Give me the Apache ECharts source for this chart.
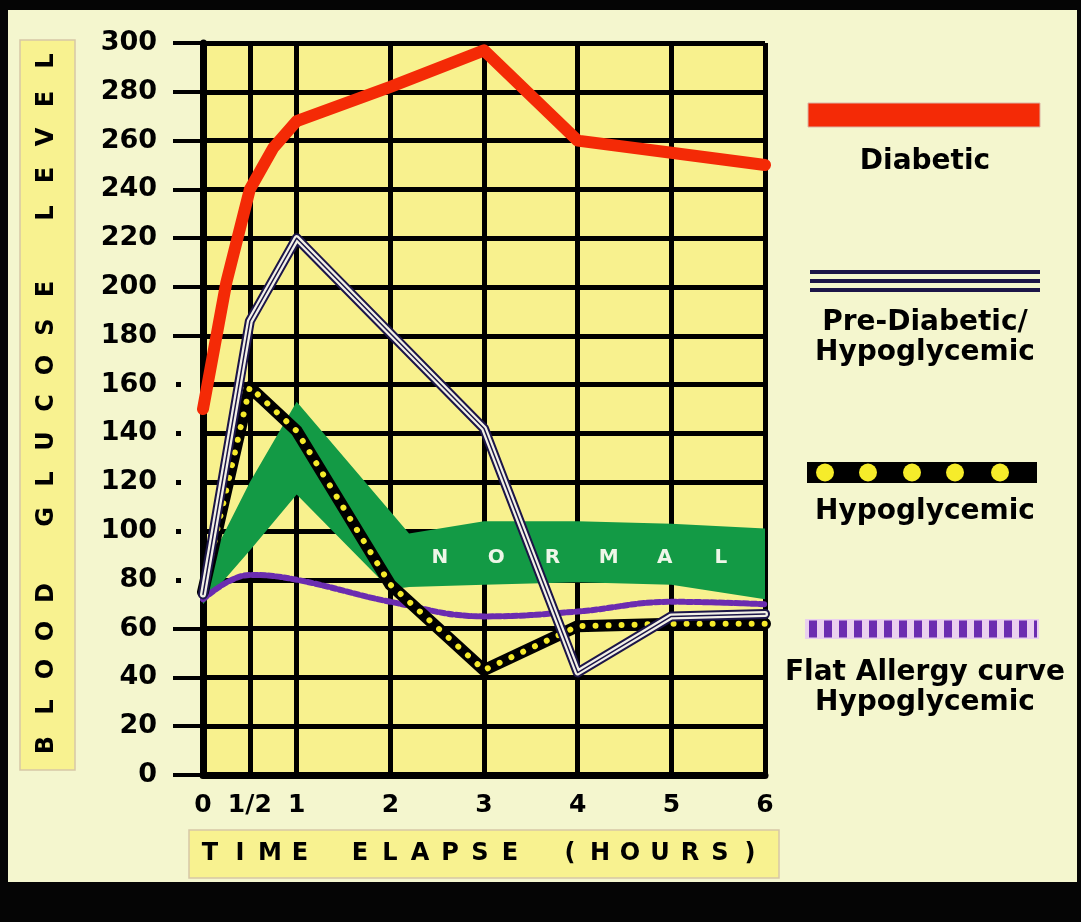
<!DOCTYPE html>
<html>
<head>
<meta charset="utf-8">
<script src="https://cdn.jsdelivr.net/npm/echarts@6/dist/echarts.min.js"></script>
<style>
html, body { margin: 0; padding: 0; background: #050505; }
#panel { position: absolute; left: 8px; top: 10px; width: 1069px; height: 872px; background: #f4f6ce; }
#main { position: absolute; left: 0; top: 0; width: 1081px; height: 922px; }
</style>
</head>
<body>
<div id="panel"></div>
<div id="main"></div>
<script>
// axis ticks
var hourTicks = [0, 0.5, 1, 2, 3, 4, 5, 6];
var hourNames = ['0', '1/2', '1', '2', '3', '4', '5', '6'];
var longTicks = [0, 20, 40, 60, 180, 200, 220, 240, 260, 280, 300];
var dotTicks = [80, 100, 120, 140, 160];

// series values (hours, blood glucose)
var diabeticHours = [0, 0.25, 0.5, 0.75, 1, 2, 3, 4, 5, 6];
var diabeticLevel = [150, 202, 240, 257, 268, 282, 297, 260, 255, 250];

var preDiabeticHours = [0, 0.5, 1, 3, 4, 5, 6];
var preDiabeticLevel = [74, 186, 220, 142, 42, 65, 66];

var hypoHours = [0, 0.5, 1, 2, 3, 4, 5, 6];
var hypoLevel = [75, 159, 141, 78, 43, 61, 62, 62];

var allergyHours = [0, 0.5, 1, 2, 3, 4, 5, 6];
var allergyLevel = [72, 82, 80, 71, 65, 67, 71, 70];

// normal band
var bandHours = [0, 0.5, 1, 2, 2.2, 3, 4, 5, 6];
var bandLow = [70, 92, 115, 76, 77, 78, 79, 78, 72];
var bandHigh = [82, 120, 153, 108, 99, 104, 104, 103, 101];
var bandLabel = 'NORMAL';

var FONT = 'DejaVu Sans';

function pairs(xs, ys) {
	var out = [];
	for (var i = 0; i < xs.length; i++) out.push([xs[i], ys[i]]);
	return out;
}

function lineSeries(data, color, width, type, smooth) {
	return {
		type: 'line',
		data: data,
		symbol: 'none',
		smooth: smooth || false,
		silent: true,
		lineStyle: { color: color, width: width, type: type || 'solid', cap: 'round', join: 'round' }
	};
}

var myChart = echarts.init(document.getElementById('main'));

// titles and legend drawn as plain graphics
var graphics = [];
graphics.push({ type: 'rect', shape: { x: 20, y: 40, width: 55, height: 730 },
	style: { fill: '#f8f290', stroke: '#d6c7a6', lineWidth: 1.5 } });
var yTitle = 'BLOOD GLUCOSE LEVEL';
for (var i = 0; i < yTitle.length; i++) {
	if (yTitle[i] === ' ') continue;
	graphics.push({ type: 'text', x: 47, y: 745 - i * 38, rotation: Math.PI / 2,
		style: { text: yTitle[i], font: 'bold 24px ' + FONT, fill: '#000', align: 'center', verticalAlign: 'middle' } });
}
graphics.push({ type: 'rect', shape: { x: 189, y: 830, width: 590, height: 48 },
	style: { fill: '#f8f290', stroke: '#d6c7a6', lineWidth: 1.5 } });
var xTitle = 'TIME ELAPSE (HOURS)';
for (var j = 0; j < xTitle.length; j++) {
	if (xTitle[j] === ' ') continue;
	graphics.push({ type: 'text', x: 210 + j * 30, y: 854,
		style: { text: xTitle[j], font: 'bold 24px ' + FONT, fill: '#000', align: 'center', verticalAlign: 'middle' } });
}

function legendText(str, y) {
	graphics.push({ type: 'text', x: 925, y: y,
		style: { text: str, font: 'bold 28px ' + FONT, fill: '#000', align: 'center', verticalAlign: 'middle' } });
}
// Diabetic
graphics.push({ type: 'rect', shape: { x: 808, y: 103, width: 232, height: 24 },
	style: { fill: '#f42a06', stroke: '#dcb4a4', lineWidth: 1 } });
legendText('Diabetic', 162);
// Pre-Diabetic
[272, 281, 290].forEach(function (y) {
	graphics.push({ type: 'line', shape: { x1: 810, y1: y, x2: 1040, y2: y },
		style: { stroke: '#1c1548', lineWidth: 4 } });
});
legendText('Pre-Diabetic/', 323);
legendText('Hypoglycemic', 353);
// Hypoglycemic
graphics.push({ type: 'rect', shape: { x: 807, y: 462, width: 230, height: 21 },
	style: { fill: '#000' } });
[825, 868, 912, 955, 1000].forEach(function (x) {
	graphics.push({ type: 'circle', shape: { cx: x, cy: 472.5, r: 9 }, style: { fill: '#f6ec2a' } });
});
legendText('Hypoglycemic', 512);
// Flat allergy
graphics.push({ type: 'rect', shape: { x: 805, y: 619, width: 234, height: 20 },
	style: { fill: '#ead0ee' } });
graphics.push({ type: 'line', shape: { x1: 809, y1: 629, x2: 1037, y2: 629 },
	style: { stroke: '#6b2cb0', lineWidth: 17, lineDash: [8, 7] } });
legendText('Flat Allergy curve', 673);
legendText('Hypoglycemic', 703);

var option = {
	animation: false,
	grid: { left: 203, top: 43, right: 316, bottom: 147, show: true, backgroundColor: '#f8f18e', borderWidth: 0 },
	xAxis: {
		type: 'value', min: 0, max: 6,
		axisLine: { show: true, onZero: false, lineStyle: { color: '#000', width: 7 } },
		axisTick: { show: false, customValues: hourTicks },
		axisLabel: {
			customValues: hourTicks, showMinLabel: true, showMaxLabel: true, margin: 18,
			color: '#000', fontFamily: FONT, fontWeight: 'bold', fontSize: 25,
			formatter: function (v) { return hourNames[hourTicks.indexOf(v)]; }
		},
		splitLine: { show: true, lineStyle: { color: '#000', width: 5 } }
	},
	yAxis: [
		{
			type: 'value', min: 0, max: 300, interval: 20,
			axisLine: { show: true, lineStyle: { color: '#000', width: 7 } },
			axisTick: { show: false },
			axisLabel: { margin: 46, color: '#000', fontFamily: FONT, fontWeight: 'bold', fontSize: 27 },
			splitLine: { show: true, lineStyle: { color: '#000', width: 5 } }
		},
		{
			type: 'value', min: 0, max: 300, position: 'left', offset: 0,
			axisLine: { show: false }, axisLabel: { show: false }, splitLine: { show: false },
			axisTick: { show: true, length: 30, customValues: longTicks, lineStyle: { color: '#000', width: 4 } }
		},
		{
			type: 'value', min: 0, max: 300, position: 'left', offset: 22,
			axisLine: { show: false }, axisLabel: { show: false }, splitLine: { show: false },
			axisTick: { show: true, length: 5, customValues: dotTicks, lineStyle: { color: '#000', width: 5 } }
		}
	],
	graphic: graphics,
	series: [
		{
			type: 'custom',
			silent: true,
			data: [[3, 90]],
			renderItem: function (params, api) {
				var pts = [];
				for (var k = 0; k < bandHours.length; k++) pts.push(api.coord([bandHours[k], bandHigh[k]]));
				for (var m = bandHours.length - 1; m >= 0; m--) pts.push(api.coord([bandHours[m], bandLow[m]]));
				var children = [{ type: 'polygon', shape: { points: pts }, style: { fill: '#139a45' } }];
				for (var n = 0; n < bandLabel.length; n++) {
					var p = api.coord([2.53 + n * 0.6, 89]);
					children.push({ type: 'text', x: p[0], y: p[1],
						style: { text: bandLabel[n], font: 'bold 20px ' + FONT, fill: '#eef6e8', align: 'center', verticalAlign: 'middle' } });
				}
				return { type: 'group', children: children };
			}
		},
		lineSeries(pairs(allergyHours, allergyLevel), '#6b2cb0', 6, [5, 3], 0.4),
		lineSeries(pairs(hypoHours, hypoLevel), '#000', 12),
		lineSeries(pairs(hypoHours, hypoLevel), '#f5ea2a', 6, [0.01, 13]),
		lineSeries(pairs(preDiabeticHours, preDiabeticLevel), '#1c1548', 10),
		lineSeries(pairs(preDiabeticHours, preDiabeticLevel), '#f2f0e6', 6),
		lineSeries(pairs(preDiabeticHours, preDiabeticLevel), '#1c1548', 1.5),
		lineSeries(pairs(diabeticHours, diabeticLevel), '#f42a06', 12)
	]
};

myChart.setOption(option);
</script>
</body>
</html>
